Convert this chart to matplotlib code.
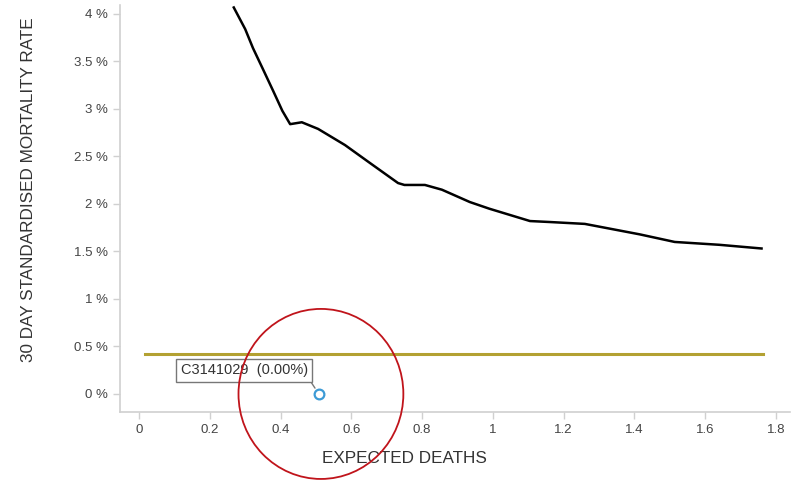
#importing required libraries
import matplotlib.pyplot as plt
from matplotlib.patches import Ellipse
from matplotlib.ticker import FuncFormatter

plt.rcParams['font.family'] = ['Liberation Sans', 'DejaVu Sans']

#control limit curve (expected deaths vs rate in %)
limit_x = [0.266, 0.30, 0.322, 0.35, 0.379, 0.405, 0.427, 0.46, 0.506, 0.582, 0.653, 0.732,
           0.75, 0.808, 0.856, 0.935, 0.99, 1.105, 1.16, 1.26, 1.415, 1.514, 1.64, 1.763]
limit_y = [4.08, 3.84, 3.64, 3.42, 3.19, 2.98, 2.84, 2.86, 2.79, 2.62, 2.43, 2.22,
           2.2, 2.2, 2.15, 2.02, 1.95, 1.82, 1.81, 1.79, 1.68, 1.6, 1.57, 1.53]

#average rate line
avg_x = [0.017, 1.763]
avg_y = [0.42, 0.42]

#hospital point
unit_name = 'C3141029'
unit_x = 0.508
unit_y = 0.0

fig = plt.figure(figsize=(7.92, 4.8), dpi=100)
ax = fig.add_axes([0.1515, 0.1417, 0.846, 0.848])

ax.plot(limit_x, limit_y, color='black', lw=1.8, solid_capstyle='butt')
ax.plot(avg_x, avg_y, color='#b3a132', lw=2.2)
ax.plot(unit_x, unit_y, 'o', ms=7, mfc='white', mec='#3d9bd6', mew=1.6, zorder=5)

#label box with leader line
ax.annotate('%s  (%.2f%%)' % (unit_name, unit_y), xy=(unit_x, unit_y), xytext=(0.477, 0.25),
            fontsize=10.5, color='#333333', va='center', ha='right',
            bbox=dict(boxstyle='square,pad=0.3', fc='white', ec='#777777', lw=1),
            arrowprops=dict(arrowstyle='-', color='#777777', lw=1, shrinkA=0, shrinkB=5,
                            relpos=(1.0, 0.0)))

#red highlight circle
ax.add_patch(Ellipse((0.514, 0.0), 0.466, 1.79, fill=False, ec='#c0141b', lw=1.3,
                     clip_on=False, zorder=6))

ax.set_xlim(-0.054, 1.84)
ax.set_ylim(-0.19, 4.095)
ax.set_xticks([0, 0.2, 0.4, 0.6, 0.8, 1, 1.2, 1.4, 1.6, 1.8])
ax.set_yticks([0, 0.5, 1, 1.5, 2, 2.5, 3, 3.5, 4])
ax.xaxis.set_major_formatter(FuncFormatter(lambda v, p: '%g' % v))
ax.yaxis.set_major_formatter(FuncFormatter(lambda v, p: '%g %%' % v))

for s in ['top', 'right']:
    ax.spines[s].set_visible(False)
for s in ['left', 'bottom']:
    ax.spines[s].set_color('#d0d0d0')
    ax.spines[s].set_linewidth(1.2)
ax.tick_params(colors='#d0d0d0', labelcolor='#444444', labelsize=9.5, length=5, width=1)

ax.set_xlabel('EXPECTED DEATHS', fontsize=12.3, color='#333333')
ax.set_ylabel('30 DAY STANDARDISED MORTALITY RATE', fontsize=12.3, color='#333333')
ax.xaxis.set_label_coords(0.425, -0.095)
ax.yaxis.set_label_coords(-0.125, 0.545)

#saving the generated plot
fig.savefig('out.png', dpi=100)
